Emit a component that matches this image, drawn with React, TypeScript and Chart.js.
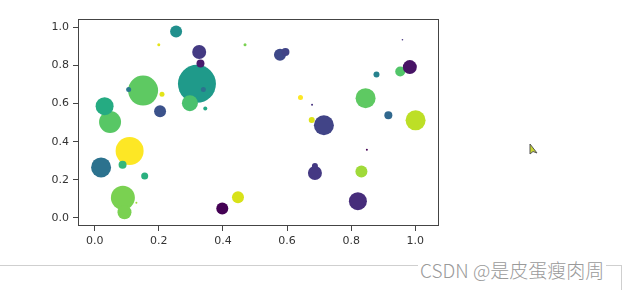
import React, { useEffect, useRef } from "react";
import { Chart, registerables } from "chart.js";

Chart.register(...registerables);

// scatter values (drawing order: bigger first where overlapping)
const xValues = [0.319, 0.151, 0.109, 0.088, 0.048, 0.02, 0.031, 0.715, 0.845, 1.001, 0.821, 0.297, 0.687, 0.093, 0.326, 0.254, 0.204, 0.398, 0.447, 0.832, 0.578, 0.953, 0.983, 0.33, 0.595, 0.087, 0.916, 0.156, 0.879, 0.687, 0.677, 0.106, 0.339, 0.21, 0.642, 0.345, 0.2, 0.469, 0.96, 0.678, 0.849, 0.13];
const yValues = [0.703, 0.668, 0.351, 0.106, 0.503, 0.265, 0.586, 0.486, 0.628, 0.512, 0.088, 0.602, 0.236, 0.03, 0.87, 0.978, 0.559, 0.05, 0.109, 0.244, 0.856, 0.768, 0.791, 0.81, 0.87, 0.279, 0.538, 0.22, 0.752, 0.272, 0.514, 0.673, 0.673, 0.649, 0.632, 0.574, 0.908, 0.908, 0.934, 0.594, 0.358, 0.08];
const sizes = [19, 15, 14, 12, 11, 10, 9, 10, 10, 10, 9, 8, 7, 7, 7, 6, 6, 6, 6, 6, 6, 5, 7, 4, 4, 4, 4, 3.5, 3, 3, 3, 2.5, 2.5, 2.5, 2.5, 2, 1.5, 1.5, 0.8, 1, 1, 1];
const colors = ["#1f9a8a", "#5ec962", "#fde725", "#7ad151", "#58c765", "#2c728e", "#25ab82", "#414487", "#5ec962", "#bddf26", "#472d7b", "#4ac16d", "#443983", "#7ad151", "#443a83", "#21908d", "#3b528b", "#440154", "#d8e219", "#a0da39", "#3e4989", "#52c569", "#471365", "#481a6c", "#414487", "#35b779", "#31688e", "#2ab07f", "#26828e", "#443983", "#dde318", "#2a788e", "#2c728e", "#e2e418", "#fde725", "#22a884", "#e5e419", "#7ad151", "#46337e", "#46327e", "#440154", "#a0da39"];
const tickValues = [0, 0.2, 0.4, 0.6, 0.8, 1.0];

const framePlugin = {
  id: "frame",
  afterDraw(chart: any) {
    const { ctx, chartArea } = chart;
    ctx.save();
    ctx.strokeStyle = "#444";
    ctx.lineWidth = 1;
    ctx.strokeRect(
      Math.round(chartArea.left) + 0.5,
      Math.round(chartArea.top) + 0.5,
      Math.round(chartArea.right - chartArea.left) - 1,
      Math.round(chartArea.bottom - chartArea.top) - 1
    );
    ctx.restore();
  },
};

export default function App() {
  const ref = useRef<HTMLCanvasElement>(null);
  useEffect(() => {
    document.body.style.margin = "0";
    const data = xValues.map((x, i) => ({ x, y: yValues[i] }));
    const tickFont = { family: "DejaVu Sans", size: 11 };
    const chart = new Chart(ref.current as HTMLCanvasElement, {
      type: "scatter",
      data: {
        datasets: [
          {
            data,
            backgroundColor: colors,
            pointRadius: sizes,
            pointHoverRadius: sizes,
            borderWidth: 0,
          },
        ],
      },
      options: {
        animation: false,
        responsive: false,
        events: [],
        layout: { padding: { left: 0, top: 17, right: 188, bottom: 0 } },
        plugins: { legend: { display: false }, tooltip: { enabled: false } },
        scales: {
          x: {
            type: "linear",
            min: -0.052,
            max: 1.074,
            afterBuildTicks: (s: any) => {
              s.ticks = tickValues.map((v) => ({ value: v }));
            },
            afterFit: (s: any) => {
              s.height = 64;
            },
            ticks: {
              color: "#333",
              font: tickFont,
              padding: 4,
              maxRotation: 0,
              callback: (v: any) => Number(v).toFixed(1),
            },
            grid: { drawOnChartArea: false, tickLength: 5, color: "#444" },
            border: { display: false },
          },
          y: {
            type: "linear",
            min: -0.042,
            max: 1.043,
            afterBuildTicks: (s: any) => {
              s.ticks = tickValues.map((v) => ({ value: v }));
            },
            afterFit: (s: any) => {
              s.width = 78;
            },
            ticks: {
              color: "#333",
              font: tickFont,
              padding: 4,
              callback: (v: any) => Number(v).toFixed(1),
            },
            grid: { drawOnChartArea: false, tickLength: 5, color: "#444" },
            border: { display: false },
          },
        },
      },
      plugins: [framePlugin],
    } as any);
    return () => chart.destroy();
  }, []);

  return (
    <div style={{ position: "absolute", left: 0, top: 0, width: 627, height: 290, background: "#fff", overflow: "hidden" }}>
      <canvas ref={ref} width={627} height={290} style={{ position: "absolute", left: 0, top: 0 }} />
      <div style={{ position: "absolute", left: 0, top: 265, width: 621, height: 30, borderTop: "1px solid #cfcfcf", borderRight: "1px solid #cfcfcf" }} />
      <div
        style={{
          position: "absolute",
          left: 418,
          top: 256,
          fontFamily: "'Noto Sans CJK SC', 'Noto Sans', sans-serif",
          fontSize: 19,
          fontWeight: 300,
          color: "#9a9a9a",
          background: "#fff",
          padding: "0 2px",
          lineHeight: "28px",
          whiteSpace: "nowrap",
        }}
      >
        CSDN @是皮蛋瘦肉周
      </div>
      <svg style={{ position: "absolute", left: 529, top: 143 }} width="12" height="14" viewBox="0 0 12 14">
        <path d="M1 1 L1 11 L4 8.5 L8 10 Z" fill="#c8d630" stroke="#555" strokeWidth="1" />
      </svg>
    </div>
  );
}
